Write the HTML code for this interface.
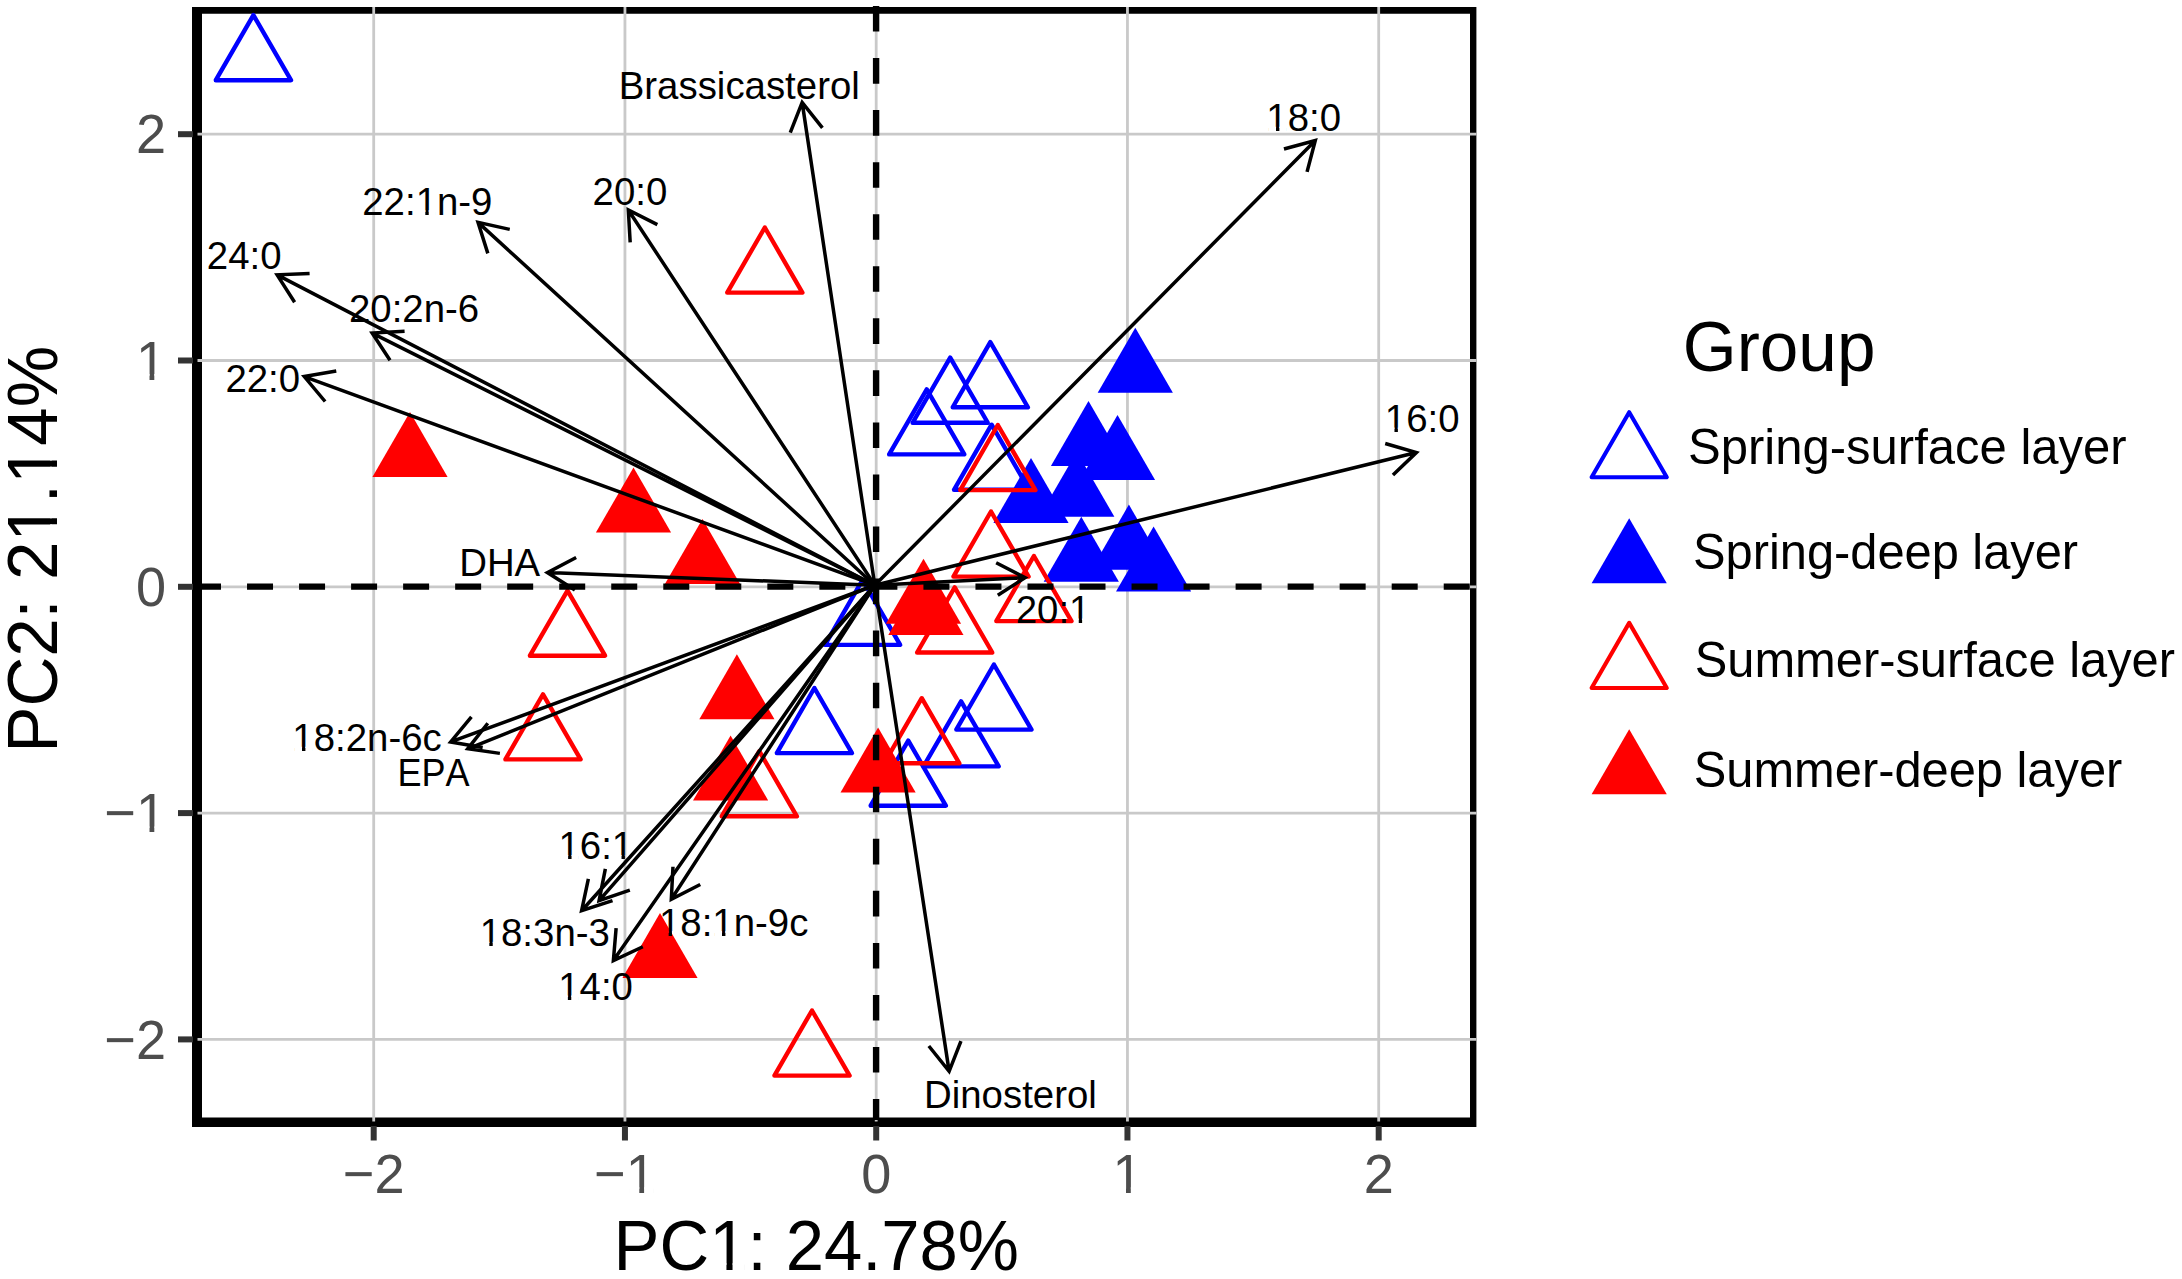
<!DOCTYPE html>
<html lang="en"><head><meta charset="utf-8"><title>PCA biplot</title>
<style>html,body{margin:0;padding:0;background:#fff}svg{display:block}svg text{font-family:"Liberation Sans",sans-serif;font-kerning:none;font-variant-ligatures:none}</style></head>
<body>
<svg width="2182" height="1279" viewBox="0 0 2182 1279">
<defs><clipPath id="k0"><path clip-rule="evenodd" d="M-38.60 -50.18H113.73V23.16H-38.60ZM2.14 -4.38H9.71V1H2.14ZM13.12 -4.38H20.38V1H13.12Z"/></clipPath><clipPath id="k1"><path clip-rule="evenodd" d="M-38.60 -50.18H113.73V23.16H-38.60ZM2.14 -4.38H9.71V1H2.14ZM13.12 -4.38H20.38V1H13.12Z"/></clipPath><clipPath id="k2"><path clip-rule="evenodd" d="M-38.60 -50.18H113.73V23.16H-38.60ZM55.80 -4.38H63.37V1H55.80ZM66.78 -4.38H74.04V1H66.78Z"/></clipPath><clipPath id="k3"><path clip-rule="evenodd" d="M-38.60 -50.18H169.52V23.16H-38.60ZM55.80 -4.38H63.37V1H55.80ZM66.78 -4.38H74.04V1H66.78Z"/></clipPath><clipPath id="k4"><path clip-rule="evenodd" d="M-38.60 -50.18H188.82V23.16H-38.60ZM2.14 -4.38H9.71V1H2.14ZM13.12 -4.38H20.38V1H13.12Z"/></clipPath><clipPath id="k5"><path clip-rule="evenodd" d="M-38.60 -50.18H113.73V23.16H-38.60ZM2.14 -4.38H9.71V1H2.14ZM13.12 -4.38H20.38V1H13.12ZM55.80 -4.38H63.37V1H55.80ZM66.78 -4.38H74.04V1H66.78Z"/></clipPath><clipPath id="k6"><path clip-rule="evenodd" d="M-38.60 -50.18H169.52V23.16H-38.60ZM2.14 -4.38H9.71V1H2.14ZM13.12 -4.38H20.38V1H13.12Z"/></clipPath><clipPath id="k7"><path clip-rule="evenodd" d="M-38.60 -50.18H188.82V23.16H-38.60ZM2.14 -4.38H9.71V1H2.14ZM13.12 -4.38H20.38V1H13.12ZM55.80 -4.38H63.37V1H55.80ZM66.78 -4.38H74.04V1H66.78Z"/></clipPath><clipPath id="k8"><path clip-rule="evenodd" d="M-38.60 -50.18H113.73V23.16H-38.60ZM2.14 -4.38H9.71V1H2.14ZM13.12 -4.38H20.38V1H13.12Z"/></clipPath><clipPath id="k9"><path clip-rule="evenodd" d="M-87.92 -72.80H87.92V33.60H-87.92ZM4.24 -5.68H14.86V1H4.24ZM19.81 -5.68H29.99V1H19.81Z"/></clipPath><clipPath id="k10"><path clip-rule="evenodd" d="M-119.85 -72.80H56.00V33.60H-119.85ZM-27.68 -5.68H-17.06V1H-27.68ZM-12.11 -5.68H-1.93V1H-12.11Z"/></clipPath><clipPath id="k11"><path clip-rule="evenodd" d="M-71.57 -72.80H71.57V33.60H-71.57ZM-12.11 -5.68H-1.49V1H-12.11ZM3.46 -5.68H13.64V1H3.46Z"/></clipPath><clipPath id="k12"><path clip-rule="evenodd" d="M-87.14 -72.80H56.00V33.60H-87.14ZM-27.68 -5.68H-17.06V1H-27.68ZM-12.11 -5.68H-1.93V1H-12.11Z"/></clipPath><clipPath id="k13"><path clip-rule="evenodd" d="M-71.00 -92.30H489.37V42.60H-71.00ZM103.24 -6.80H116.48V1H103.24ZM122.76 -6.80H135.45V1H122.76Z"/></clipPath><clipPath id="k14"><path clip-rule="evenodd" d="M-71.00 -92.30H489.37V42.60H-71.00ZM221.66 -6.80H234.91V1H221.66ZM241.19 -6.80H253.88V1H241.19ZM280.88 -6.80H294.12V1H280.88ZM300.40 -6.80H313.09V1H300.40Z"/></clipPath></defs>
<rect width="2182" height="1279" fill="#fff"/>
<path fill="#000" fill-rule="evenodd" d="M192.0 7.0H1476.4V1127.0H192.0Z M202.0 13.8H1470.0V1117.6H202.0Z"/>
<g stroke="#c9c9c9" stroke-width="2.8" fill="none">
<line x1="373.70" y1="7" x2="373.70" y2="1121.5"/>
<line x1="197.5" y1="1039.40" x2="1476.4" y2="1039.40"/>
<line x1="624.95" y1="7" x2="624.95" y2="1121.5"/>
<line x1="197.5" y1="813.10" x2="1476.4" y2="813.10"/>
<line x1="876.20" y1="7" x2="876.20" y2="1121.5"/>
<line x1="197.5" y1="586.80" x2="1476.4" y2="586.80"/>
<line x1="1127.45" y1="7" x2="1127.45" y2="1121.5"/>
<line x1="197.5" y1="360.50" x2="1476.4" y2="360.50"/>
<line x1="1378.70" y1="7" x2="1378.70" y2="1121.5"/>
<line x1="197.5" y1="134.20" x2="1476.4" y2="134.20"/>
</g>
<g stroke="#333" stroke-width="6" fill="none">
<line x1="373.70" y1="1126" x2="373.70" y2="1140.5"/>
<line x1="178" y1="1039.40" x2="193" y2="1039.40"/>
<line x1="624.95" y1="1126" x2="624.95" y2="1140.5"/>
<line x1="178" y1="813.10" x2="193" y2="813.10"/>
<line x1="876.20" y1="1126" x2="876.20" y2="1140.5"/>
<line x1="178" y1="586.80" x2="193" y2="586.80"/>
<line x1="1127.45" y1="1126" x2="1127.45" y2="1140.5"/>
<line x1="178" y1="360.50" x2="193" y2="360.50"/>
<line x1="1378.70" y1="1126" x2="1378.70" y2="1140.5"/>
<line x1="178" y1="134.20" x2="193" y2="134.20"/>
</g>
<g fill="none" stroke="#0000ff" stroke-width="4.4" stroke-linejoin="round">
<path d="M253.40 15.10L290.99 80.20L215.81 80.20Z"/>
<path d="M990.30 342.15L1027.89 407.25L952.71 407.25Z"/>
<path d="M950.20 357.65L987.79 422.75L912.61 422.75Z"/>
<path d="M926.75 389.30L964.34 454.40L889.16 454.40Z"/>
<path d="M991.60 424.70L1029.19 489.80L954.01 489.80Z"/>
<path d="M862.60 579.80L900.19 644.90L825.01 644.90Z"/>
<path d="M814.40 688.00L851.99 753.10L776.81 753.10Z"/>
<path d="M993.90 664.50L1031.49 729.60L956.31 729.60Z"/>
<path d="M961.10 701.30L998.69 766.40L923.51 766.40Z"/>
<path d="M908.25 740.60L945.84 805.70L870.66 805.70Z"/>
</g>
<g fill="#0000ff" stroke="none">
<path d="M1135.30 327.70L1172.89 392.80L1097.71 392.80Z"/>
<path d="M1088.50 400.90L1126.09 466.00L1050.91 466.00Z"/>
<path d="M1117.50 414.90L1155.09 480.00L1079.91 480.00Z"/>
<path d="M1031.00 457.90L1068.59 523.00L993.41 523.00Z"/>
<path d="M1076.80 451.70L1114.39 516.80L1039.21 516.80Z"/>
<path d="M1081.30 516.70L1118.89 581.80L1043.71 581.80Z"/>
<path d="M1128.90 504.60L1166.49 569.70L1091.31 569.70Z"/>
<path d="M1153.60 526.50L1191.19 591.60L1116.01 591.60Z"/>
</g>
<g fill="none" stroke="#ff0000" stroke-width="4.4" stroke-linejoin="round">
<path d="M764.80 227.50L802.39 292.60L727.21 292.60Z"/>
<path d="M997.80 425.00L1035.39 490.10L960.21 490.10Z"/>
<path d="M991.00 511.50L1028.59 576.60L953.41 576.60Z"/>
<path d="M1033.90 556.00L1071.49 621.10L996.31 621.10Z"/>
<path d="M954.70 587.40L992.29 652.50L917.11 652.50Z"/>
<path d="M567.50 590.60L605.09 655.70L529.91 655.70Z"/>
<path d="M543.00 694.30L580.59 759.40L505.41 759.40Z"/>
<path d="M759.30 751.20L796.89 816.30L721.71 816.30Z"/>
<path d="M921.75 698.20L959.34 763.30L884.16 763.30Z"/>
<path d="M812.00 1010.50L849.59 1075.60L774.41 1075.60Z"/>
</g>
<g fill="#ff0000" stroke="none">
<path d="M410.00 411.90L447.59 477.00L372.41 477.00Z"/>
<path d="M633.50 467.40L671.09 532.50L595.91 532.50Z"/>
<path d="M702.50 518.90L740.09 584.00L664.91 584.00Z"/>
<path d="M736.90 654.20L774.49 719.30L699.31 719.30Z"/>
<path d="M730.60 735.40L768.19 800.50L693.01 800.50Z"/>
<path d="M878.10 727.50L915.69 792.60L840.51 792.60Z"/>
<path d="M923.50 558.65L961.09 623.75L885.91 623.75Z"/>
<path d="M925.90 569.90L963.49 635.00L888.31 635.00Z"/>
<path d="M660.00 912.90L697.59 978.00L622.41 978.00Z"/>
</g>
<g stroke="#000" stroke-width="6.4" fill="none">
<line x1="195" y1="586.6" x2="1470.5" y2="586.6" stroke-dasharray="26 26.03"/>
<line x1="876.1" y1="6" x2="876.1" y2="1120" stroke-dasharray="25.6 26.45"/>
</g>
<g stroke="#000" stroke-width="3.5" fill="none" stroke-linejoin="miter" stroke-miterlimit="10" stroke-linecap="butt">
<path d="M874.8 585.2L1315.31 140.46M1283.96 149.02L1315.31 140.46L1307.05 171.89"/>
<path d="M874.8 585.2L1416.42 452.57M1385.22 443.48L1416.42 452.57L1392.95 475.05"/>
<path d="M874.8 585.2L1025.10 577.62M996.17 562.81L1025.10 577.62L997.81 595.27"/>
<path d="M874.8 585.2L802.16 102.37M790.28 132.62L802.16 102.37L822.41 127.79"/>
<path d="M874.8 585.2L628.32 210.01M630.19 242.45L628.32 210.01L657.35 224.61"/>
<path d="M874.8 585.2L478.02 222.37M487.83 253.36L478.02 222.37L509.76 229.37"/>
<path d="M874.8 585.2L277.13 274.86M294.62 302.25L277.13 274.86L309.60 273.40"/>
<path d="M874.8 585.2L372.15 333.08M390.02 360.22L372.15 333.08L404.59 331.17"/>
<path d="M874.8 585.2L304.25 376.57M325.11 401.50L304.25 376.57L336.27 370.98"/>
<path d="M874.8 585.2L547.40 572.59M574.90 589.91L547.40 572.59L576.15 557.44"/>
<path d="M874.8 585.2L450.65 741.97M482.69 747.45L450.65 741.97L471.42 716.97"/>
<path d="M874.8 585.2L467.73 748.81M499.90 753.39L467.73 748.81L487.78 723.23"/>
<path d="M874.8 585.2L581.61 910.72M612.52 900.68L581.61 910.72L588.37 878.93"/>
<path d="M874.8 585.2L599.08 900.69M629.84 890.19L599.08 900.69L605.36 868.81"/>
<path d="M874.8 585.2L671.31 899.24M700.25 884.45L671.31 899.24L672.97 866.78"/>
<path d="M874.8 585.2L613.37 960.53M642.79 946.72L613.37 960.53L616.12 928.15"/>
<path d="M874.8 585.2L949.14 1071.38M960.95 1041.10L949.14 1071.38L928.82 1046.01"/>
</g>
<text transform="translate(1266.33 131.25) scale(0.9948 1)" font-size="38.6" fill="#000" clip-path="url(#k0)">18:0</text>
<text transform="translate(1384.83 432.00) scale(0.9948 1)" font-size="38.6" fill="#000" clip-path="url(#k1)">16:0</text>
<text transform="translate(1015.69 622.80) scale(0.9948 1)" font-size="38.6" fill="#000" clip-path="url(#k2)">20:1</text>
<text transform="translate(618.74 99.20) scale(0.9948 1)" font-size="38.6" fill="#000">Brassicasterol</text>
<text transform="translate(592.57 205.30) scale(0.9948 1)" font-size="38.6" fill="#000">20:0</text>
<text transform="translate(362.27 214.50) scale(0.9948 1)" font-size="38.6" fill="#000" clip-path="url(#k3)">22:1n-9</text>
<text transform="translate(206.87 269.20) scale(0.9948 1)" font-size="38.6" fill="#000">24:0</text>
<text transform="translate(349.01 322.00) scale(0.9948 1)" font-size="38.6" fill="#000">20:2n-6</text>
<text transform="translate(225.42 392.00) scale(0.9948 1)" font-size="38.6" fill="#000">22:0</text>
<text transform="translate(459.18 576.00) scale(0.9948 1)" font-size="38.6" fill="#000">DHA</text>
<text transform="translate(292.36 751.20) scale(0.9948 1)" font-size="38.6" fill="#000" clip-path="url(#k4)">18:2n-6c</text>
<text transform="translate(397.54 786.25) scale(0.9338 1)" font-size="38.6" fill="#000">EPA</text>
<text transform="translate(558.48 859.30) scale(0.9948 1)" font-size="38.6" fill="#000" clip-path="url(#k5)">16:1</text>
<text transform="translate(479.67 946.25) scale(0.9948 1)" font-size="38.6" fill="#000" clip-path="url(#k6)">18:3n-3</text>
<text transform="translate(658.98 935.50) scale(0.9948 1)" font-size="38.6" fill="#000" clip-path="url(#k7)">18:1n-9c</text>
<text transform="translate(558.20 1000.00) scale(0.9948 1)" font-size="38.6" fill="#000" clip-path="url(#k8)">14:0</text>
<text transform="translate(924.02 1108.00) scale(0.9948 1)" font-size="38.6" fill="#000">Dinosterol</text>
<text transform="translate(373.70 1193.00) scale(0.966 1)" font-size="56.0" fill="#4d4d4d" text-anchor="middle">−2</text>
<text transform="translate(166.00 1058.50) scale(0.966 1)" font-size="56.0" fill="#4d4d4d" text-anchor="end">−2</text>
<text transform="translate(624.95 1193.00) scale(0.966 1)" font-size="56.0" fill="#4d4d4d" text-anchor="middle" clip-path="url(#k9)">−1</text>
<text transform="translate(166.00 832.20) scale(0.966 1)" font-size="56.0" fill="#4d4d4d" text-anchor="end" clip-path="url(#k10)">−1</text>
<text transform="translate(876.20 1193.00) scale(0.966 1)" font-size="56.0" fill="#4d4d4d" text-anchor="middle">0</text>
<text transform="translate(166.00 605.90) scale(0.966 1)" font-size="56.0" fill="#4d4d4d" text-anchor="end">0</text>
<text transform="translate(1127.45 1193.00) scale(0.966 1)" font-size="56.0" fill="#4d4d4d" text-anchor="middle" clip-path="url(#k11)">1</text>
<text transform="translate(166.00 379.60) scale(0.966 1)" font-size="56.0" fill="#4d4d4d" text-anchor="end" clip-path="url(#k12)">1</text>
<text transform="translate(1378.70 1193.00) scale(0.966 1)" font-size="56.0" fill="#4d4d4d" text-anchor="middle">2</text>
<text transform="translate(166.00 153.30) scale(0.966 1)" font-size="56.0" fill="#4d4d4d" text-anchor="end">2</text>
<text transform="translate(613.56 1270.00) scale(0.9692 1)" font-size="71.0" fill="#000" clip-path="url(#k13)">PC1: 24.78%</text>
<text transform="translate(57 752.66) rotate(-90) scale(0.9722 1)" font-size="71.0" fill="#000" clip-path="url(#k14)">PC2: 21.14%</text>
<text transform="translate(1682.81 370.60) scale(0.9905 1)" font-size="70.0" fill="#000">Group</text>
<path d="M1629.20 412.20L1666.79 477.30L1591.61 477.30Z" fill="none" stroke="#0000ff" stroke-width="4.1" stroke-linejoin="round"/>
<path d="M1629.20 518.20L1666.79 583.30L1591.61 583.30Z" fill="#0000ff"/>
<path d="M1629.20 622.90L1666.79 688.00L1591.61 688.00Z" fill="none" stroke="#ff0000" stroke-width="4.1" stroke-linejoin="round"/>
<path d="M1629.20 729.20L1666.79 794.30L1591.61 794.30Z" fill="#ff0000"/>
<text transform="translate(1688.07 464.00) scale(0.9903 1)" font-size="49.5" fill="#000">Spring-surface layer</text>
<text transform="translate(1692.98 569.00) scale(0.9859 1)" font-size="49.5" fill="#000">Spring-deep layer</text>
<text transform="translate(1694.68 677.00) scale(0.9870 1)" font-size="49.5" fill="#000">Summer-surface layer</text>
<text transform="translate(1693.78 786.90) scale(0.9861 1)" font-size="49.5" fill="#000">Summer-deep layer</text>
</svg>
</body></html>
